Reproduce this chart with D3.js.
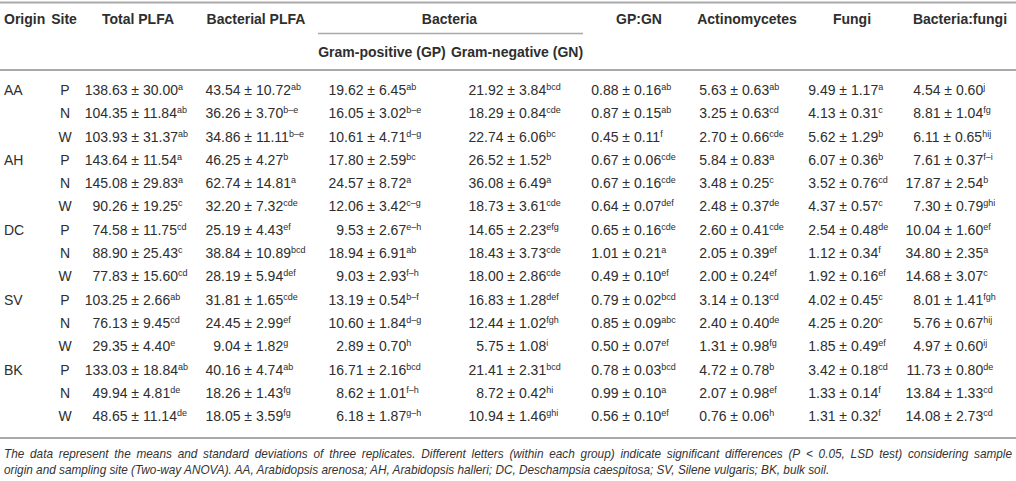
<!DOCTYPE html>
<html>
<head>
<meta charset="utf-8">
<script src="https://cdn.jsdelivr.net/npm/d3@7"></script>
<style>
  body { margin: 0; background: #fff; }
  svg text { font-family: "Liberation Sans", Arial, Helvetica, sans-serif; fill: #2e2e2e; }
  .head { font-weight: bold; font-size: 14px; }
  .cell { font-size: 14px; }
  .sup { font-size: 9px; }
  .note { font-style: italic; font-size: 12.5px; fill: #333; }
  .rule { stroke: #a9a9a9; }
</style>
</head>
<body>
<svg id="canvas" width="1016" height="481"></svg>
<script>

var origins = ["AA", "AH", "DC", "SV", "BK"];
var sites = ["P", "N", "W"];

// [mean, sd, letters]
var totalPLFA = [
    [138.63, 30.00, "a"], [104.35, 11.84, "ab"], [103.93, 31.37, "ab"],
    [143.64, 11.54, "a"], [145.08, 29.83, "a"], [90.26, 19.25, "c"],
    [74.58, 11.75, "cd"], [88.90, 25.43, "c"], [77.83, 15.60, "cd"],
    [103.25, 2.66, "ab"], [76.13, 9.45, "cd"], [29.35, 4.40, "e"],
    [133.03, 18.84, "ab"], [49.94, 4.81, "de"], [48.65, 11.14, "de"]
];
var bacterialPLFA = [
    [43.54, 10.72, "ab"], [36.26, 3.70, "b–e"], [34.86, 11.11, "b–e"],
    [46.25, 4.27, "b"], [62.74, 14.81, "a"], [32.20, 7.32, "cde"],
    [25.19, 4.43, "ef"], [38.84, 10.89, "bcd"], [28.19, 5.94, "def"],
    [31.81, 1.65, "cde"], [24.45, 2.99, "ef"], [9.04, 1.82, "g"],
    [40.16, 4.74, "ab"], [18.26, 1.43, "fg"], [18.05, 3.59, "fg"]
];
var gramPositive = [
    [19.62, 6.45, "ab"], [16.05, 3.02, "b–e"], [10.61, 4.71, "d–g"],
    [17.80, 2.59, "bc"], [24.57, 8.72, "a"], [12.06, 3.42, "c–g"],
    [9.53, 2.67, "e–h"], [18.94, 6.91, "ab"], [9.03, 2.93, "f–h"],
    [13.19, 0.54, "b–f"], [10.60, 1.84, "d–g"], [2.89, 0.70, "h"],
    [16.71, 2.16, "bcd"], [8.62, 1.01, "f–h"], [6.18, 1.87, "g–h"]
];
var gramNegative = [
    [21.92, 3.84, "bcd"], [18.29, 0.84, "cde"], [22.74, 6.06, "bc"],
    [26.52, 1.52, "b"], [36.08, 6.49, "a"], [18.73, 3.61, "cde"],
    [14.65, 2.23, "efg"], [18.43, 3.73, "cde"], [18.00, 2.86, "cde"],
    [16.83, 1.28, "def"], [12.44, 1.02, "fgh"], [5.75, 1.08, "i"],
    [21.41, 2.31, "bcd"], [8.72, 0.42, "hi"], [10.94, 1.46, "ghi"]
];
var gpgn = [
    [0.88, 0.16, "ab"], [0.87, 0.15, "ab"], [0.45, 0.11, "f"],
    [0.67, 0.06, "cde"], [0.67, 0.16, "cde"], [0.64, 0.07, "def"],
    [0.65, 0.16, "cde"], [1.01, 0.21, "a"], [0.49, 0.10, "ef"],
    [0.79, 0.02, "bcd"], [0.85, 0.09, "abc"], [0.50, 0.07, "ef"],
    [0.78, 0.03, "bcd"], [0.99, 0.10, "a"], [0.56, 0.10, "ef"]
];
var actinomycetes = [
    [5.63, 0.63, "ab"], [3.25, 0.63, "cd"], [2.70, 0.66, "cde"],
    [5.84, 0.83, "a"], [3.48, 0.25, "c"], [2.48, 0.37, "de"],
    [2.60, 0.41, "cde"], [2.05, 0.39, "ef"], [2.00, 0.24, "ef"],
    [3.14, 0.13, "cd"], [2.40, 0.40, "de"], [1.31, 0.98, "fg"],
    [4.72, 0.78, "b"], [2.07, 0.98, "ef"], [0.76, 0.06, "h"]
];
var fungi = [
    [9.49, 1.17, "a"], [4.13, 0.31, "c"], [5.62, 1.29, "b"],
    [6.07, 0.36, "b"], [3.52, 0.76, "cd"], [4.37, 0.57, "c"],
    [2.54, 0.48, "de"], [1.12, 0.34, "f"], [1.92, 0.16, "ef"],
    [4.02, 0.45, "c"], [4.25, 0.20, "c"], [1.85, 0.49, "ef"],
    [3.42, 0.18, "cd"], [1.33, 0.14, "f"], [1.31, 0.32, "f"]
];
var bacteriaFungi = [
    [4.54, 0.60, "j"], [8.81, 1.04, "fg"], [6.11, 0.65, "hij"],
    [7.61, 0.37, "f–i"], [17.87, 2.54, "b"], [7.30, 0.79, "ghi"],
    [10.04, 1.60, "ef"], [34.80, 2.35, "a"], [14.68, 3.07, "c"],
    [8.01, 1.41, "fgh"], [5.76, 0.67, "hij"], [4.97, 0.60, "ij"],
    [11.73, 0.80, "de"], [13.84, 1.33, "cd"], [14.08, 2.73, "cd"]
];

var headers = ["Total PLFA", "Bacterial PLFA", "Gram-positive (GP)", "Gram-negative (GN)",
    "GP:GN", "Actinomycetes", "Fungi", "Bacteria:fungi"];
var notes = [
    "The data represent the means and standard deviations of three replicates. Different letters (within each group) indicate significant differences (P < 0.05, LSD test) considering sample",
    "origin and sampling site (Two-way ANOVA). AA, Arabidopsis arenosa; AH, Arabidopsis halleri; DC, Deschampsia caespitosa; SV, Silene vulgaris; BK, bulk soil."
];

var columns = [totalPLFA, bacterialPLFA, gramPositive, gramNegative, gpgn, actinomycetes, fungi, bacteriaFungi];

var svg = d3.select("#canvas");
var fmt = d3.format(".2f");

// rows
var rowIds = d3.range(origins.length * sites.length);
var y = d3.scaleBand().domain(rowIds).range([78.3, 427.8]);

// header centres and decimal point of each column
var headX = d3.scaleOrdinal().domain(headers).range([138, 256, 382, 517, 639, 747, 852, 960]);
var decX = d3.scaleOrdinal().domain(d3.range(columns.length)).range([108, 221, 344, 484, 599, 707, 816, 921]);

function rule(x1, x2, yy, w){
    svg.append("line")
        .attr("class", "rule")
        .attr("x1", x1).attr("x2", x2)
        .attr("y1", yy).attr("y2", yy)
        .attr("stroke-width", w);
}

rule(0, 1016, 2.5, 2);
rule(318, 583, 33.5, 1.5);
rule(0, 1016, 70, 2);
rule(0, 1016, 438, 2);

// header row 1
var h1 = 24, h2 = 57;
svg.append("text").attr("class", "head").attr("x", 4).attr("y", h1).text("Origin");
svg.append("text").attr("class", "head").attr("x", 64).attr("y", h1)
    .attr("text-anchor", "middle").text("Site");
[0, 1, 4, 5, 6, 7].forEach(function(i){
    svg.append("text").attr("class", "head")
        .attr("x", headX(headers[i])).attr("y", h1)
        .attr("text-anchor", "middle").text(headers[i]);
});
svg.append("text").attr("class", "head")
    .attr("x", (headX(headers[2]) + headX(headers[3])) / 2).attr("y", h1)
    .attr("text-anchor", "middle").text("Bacteria");
// header row 2
[2, 3].forEach(function(i){
    svg.append("text").attr("class", "head")
        .attr("x", headX(headers[i])).attr("y", h2)
        .attr("text-anchor", "middle").text(headers[i]);
});

// body
rowIds.forEach(function(r){
    var yy = y(r) + y.bandwidth() / 2 + 5;
    if (r % sites.length == 0){
        svg.append("text").attr("class", "cell").attr("x", 4).attr("y", yy)
            .text(origins[r / sites.length]);
    }
    svg.append("text").attr("class", "cell").attr("x", 65).attr("y", yy)
        .attr("text-anchor", "middle").text(sites[r % sites.length]);

    columns.forEach(function(col, c){
        var d = col[r];
        var parts = fmt(d[0]).split(".");
        svg.append("text").attr("class", "cell")
            .attr("x", decX(c)).attr("y", yy)
            .attr("text-anchor", "end").text(parts[0]);
        var t = svg.append("text").attr("class", "cell")
            .attr("x", decX(c)).attr("y", yy);
        t.append("tspan").text("." + parts[1] + " \u00b1 " + fmt(d[1]));
        t.append("tspan").attr("class", "sup").attr("dy", -5).text(d[2]);
    });
});

// footnote: narrow italic, first line justified to the full width
var noteLeft = 4, noteRight = 1012, lastEnd = 830;
var g = svg.append("g");
var n2 = g.append("text").attr("class", "note").attr("x", 0).attr("y", 474).text(notes[1]);
var squeeze = (lastEnd - noteLeft) / n2.node().getComputedTextLength();
g.attr("transform", "translate(" + noteLeft + ",0) scale(" + squeeze + ",1)");

var words = notes[0].split(" ");
var n1 = g.append("text").attr("class", "note").attr("y", 458);
var widths = words.map(function(w){
    var tmp = g.append("text").attr("class", "note").text(w);
    var len = tmp.node().getComputedTextLength();
    tmp.remove();
    return len;
});
var gap = ((noteRight - noteLeft) / squeeze - d3.sum(widths)) / (words.length - 1);
var cx = 0;
words.forEach(function(w, i){
    n1.append("tspan").attr("x", cx).text(w);
    cx += widths[i] + gap;
});

</script>
</body>
</html>
